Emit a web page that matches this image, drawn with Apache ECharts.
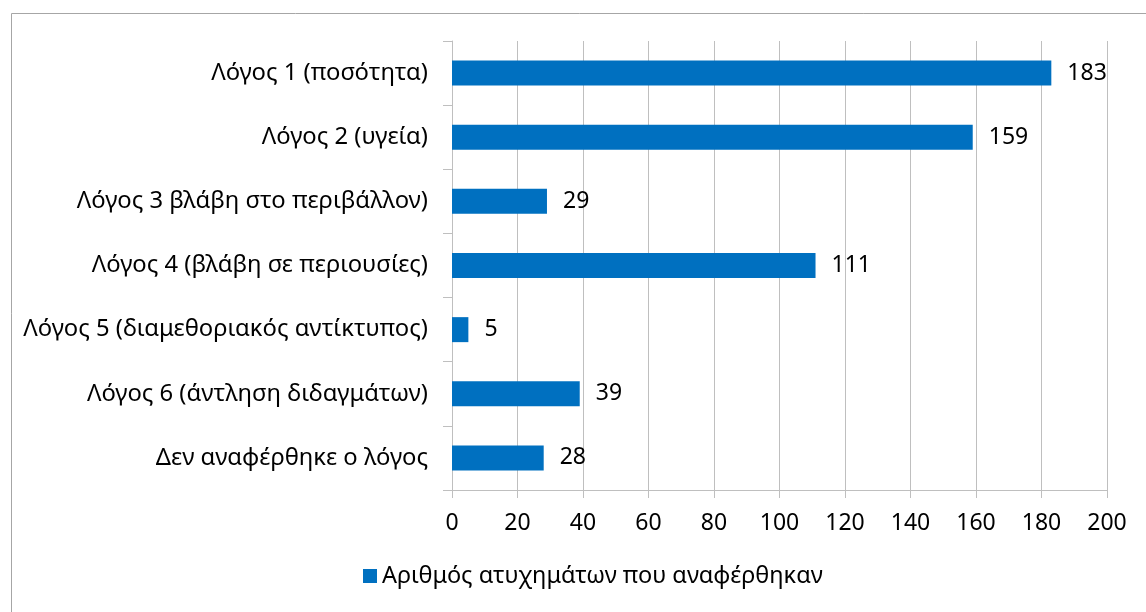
<!DOCTYPE html>
<html>
<head>
<meta charset="utf-8">
<script src="https://cdn.jsdelivr.net/npm/echarts@6/dist/echarts.min.js"></script>
<style>
html,body{margin:0;padding:0;background:#fff;}
#c{width:1146px;height:612px;}
</style>
</head>
<body>
<div id="c"></div>
<script>
const categories = [
  "Λόγος 1 (ποσότητα)",
  "Λόγος 2 (υγεία)",
  "Λόγος 3 βλάβη στο περιβάλλον)",
  "Λόγος 4 (βλάβη σε περιουσίες)",
  "Λόγος 5 (διαμεθοριακός αντίκτυπος)",
  "Λόγος 6 (άντληση διδαγμάτων)",
  "Δεν αναφέρθηκε ο λόγος"
];
const seriesName = "Αριθμός ατυχημάτων που αναφέρθηκαν";
const values = [183, 159, 29, 111, 5, 39, 28];
const xTicks = { min: 0, max: 200, interval: 20 };

const FONT = "Noto Sans";
const chart = echarts.init(document.getElementById('c'));
chart.setOption({
  animation: false,
  textStyle: { fontFamily: FONT },
  graphic: [{
    type: 'rect', left: 9, top: 11,
    shape: { width: 1200, height: 700 },
    style: { fill: 'none', stroke: '#a6a6a6', lineWidth: 1 },
    silent: true
  }],
  grid: { left: 452, right: 39, top: 41, bottom: 122, containLabel: false },
  legend: {
    bottom: 19, left: 358,
    itemWidth: 14, itemHeight: 14, itemGap: 6,
    icon: 'rect',
    textStyle: { fontFamily: FONT, fontSize: 23.5, color: '#000' },
    data: [seriesName]
  },
  xAxis: {
    type: 'value', min: xTicks.min, max: xTicks.max, interval: xTicks.interval,
    axisLine: { show: true, lineStyle: { color: '#bfbfbf', width: 1 } },
    axisTick: { show: true, length: 8, lineStyle: { color: '#bfbfbf' } },
    splitLine: { show: true, lineStyle: { color: '#bfbfbf', width: 1 } },
    axisLabel: { fontFamily: FONT, fontSize: 23, color: '#000', margin: 22 }
  },
  yAxis: {
    type: 'category', data: categories, inverse: true,
    axisLine: { show: true, lineStyle: { color: '#bfbfbf', width: 1 } },
    axisTick: { show: true, length: 9, lineStyle: { color: '#bfbfbf' } },
    axisLabel: { fontFamily: FONT, fontSize: 23.8, color: '#000', margin: 24 }
  },
  series: [{
    name: seriesName, type: 'bar', data: values,
    barWidth: 25,
    itemStyle: { color: '#0070C0' },
    label: { show: true, position: 'right', distance: 16, fontFamily: FONT, fontSize: 23, color: '#000' }
  }]
});
</script>
</body>
</html>
